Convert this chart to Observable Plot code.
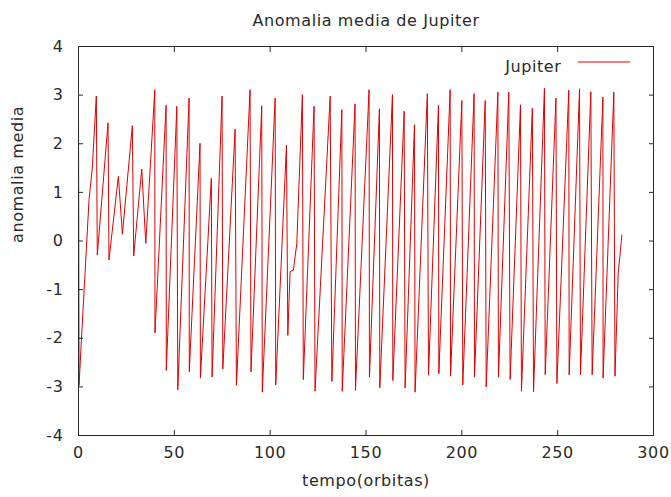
<!DOCTYPE html>
<html>
<head>
<meta charset="utf-8">
<script src="https://cdn.jsdelivr.net/npm/d3@7"></script>
<script src="https://cdn.jsdelivr.net/npm/@observablehq/plot@0.6"></script>
<style>
  html, body { margin: 0; padding: 0; background: #fff; }
</style>
</head>
<body>
<div id="chart"></div>
<script>
const titleText = "Anomalia media de Jupiter";
const xLabel = "tempo(orbitas)";
const yLabel = "anomalia media";
const seriesName = "Jupiter";
const xTicks = [0, 50, 100, 150, 200, 250, 300];
const yTicks = [-4, -3, -2, -1, 0, 1, 2, 3, 4];

const tempo = [
  0, 0.3, 1.5, 5.5, 7.2, 9.3, 9.8, 15.4, 15.9, 20.8, 22.9, 28.1, 28.8, 33.0, 35.1,
  39.8, 39.9, 45.7, 45.8, 51.3, 51.8, 57.7, 57.8, 63.4, 63.6, 69.3, 69.7, 74.9, 75.3,
  81.7, 82.4, 89.5, 90.0, 95.6, 95.9, 102.6, 102.9, 108.5, 109.2, 110.4, 112.1, 113.9,
  116.8, 117.3, 122.9, 123.4, 131.3, 132.2, 137.4, 137.6, 144.3, 144.5, 151.6, 151.8,
  157.0, 157.2, 163.8, 164.0, 169.9, 170.4, 175.3, 175.6, 182.0, 182.6, 187.8, 188.0,
  193.9, 194.1, 200.0, 200.5, 206.4, 206.6, 212.2, 212.7, 218.8, 219.1, 224.5, 225.2,
  230.6, 231.1, 236.8, 237.4, 243.1, 243.5, 249.1, 249.6, 255.8, 256.0, 261.4, 261.9,
  267.3, 268.0, 273.6, 273.7, 279.3, 279.9, 281.6, 283.5
];
const anomalia = [
  2.91, -2.97, -2.04, 0.85, 1.50, 2.98, -0.29, 2.43, -0.39, 1.33, 0.14, 2.37, -0.31, 1.48, -0.05,
  3.11, -1.89, 2.79, -2.66, 2.77, -3.06, 2.94, -2.69, 2.01, -2.82, 1.29, -2.80, 2.98, -2.63,
  2.30, -2.97, 3.11, -2.69, 2.78, -3.11, 2.94, -2.96, 1.97, -1.94, -0.63, -0.60, -0.05,
  3.01, -2.85, 2.77, -3.09, 2.98, -2.89, 2.70, -3.09, 2.82, -3.07, 3.11, -2.80,
  2.72, -3.02, 3.01, -2.87, 2.67, -3.02, 2.39, -3.11, 3.03, -2.76, 2.79, -2.73,
  3.11, -2.78, 2.89, -2.96, 3.03, -2.80, 2.89, -3.00, 3.06, -2.80, 3.06, -2.85,
  2.80, -3.09, 2.73, -3.10, 3.14, -2.75, 2.94, -2.93, 3.10, -2.75, 3.13, -2.75,
  3.07, -2.75, 2.96, -2.82, 3.06, -2.78, -0.66, 0.12
];

const data = tempo.map((t, i) => ({t, a: anomalia[i]}));
const ink = "#2a2a2a";
const lineColor = "#e00000";
const fmt = d => String(d);

const svg = Plot.plot({
  width: 671,
  height: 497,
  marginLeft: 78,
  marginRight: 18,
  marginTop: 46,
  marginBottom: 62,
  style: {fontFamily: "DejaVu Sans", fontSize: "16px", color: ink, background: "#fff"},
  x: {domain: [0, 300]},
  y: {domain: [-4, 4]},
  marks: [
    Plot.line(data, {x: "t", y: "a", stroke: lineColor, strokeWidth: 1}),
    Plot.frame({stroke: ink}),
    // tick labels
    Plot.axisX(xTicks, {anchor: "bottom", tickSize: 0, tickPadding: 11, tickFormat: fmt, label: null, fill: ink, fontSize: 16}),
    Plot.axisY(yTicks, {anchor: "left", tickSize: 0, tickPadding: 15, tickFormat: fmt, label: null, fill: ink, fontSize: 16}),
    // inward ticks on all four sides
    Plot.axisX(xTicks, {anchor: "bottom", tickSize: 5, dy: -5, tickFormat: () => "", label: null, stroke: ink}),
    Plot.axisX(xTicks, {anchor: "top", tickSize: 5, dy: 5, tickFormat: () => "", label: null, stroke: ink}),
    Plot.axisY(yTicks, {anchor: "left", tickSize: 5, dx: 5, tickFormat: () => "", label: null, stroke: ink}),
    Plot.axisY(yTicks, {anchor: "right", tickSize: 5, dx: -5, tickFormat: () => "", label: null, stroke: ink}),
    // titles
    Plot.text([titleText], {frameAnchor: "top", dy: -32, fontSize: 16, fill: ink}),
    Plot.text([xLabel], {frameAnchor: "bottom", dy: 50, fontSize: 16, fill: ink}),
    Plot.text([yLabel], {frameAnchor: "left", dx: -61, dy: 2, rotate: -90, fontSize: 16, fill: ink}),
    Plot.text([seriesName], {frameAnchor: "top-right", dx: -92, dy: 14, textAnchor: "end", fontSize: 16, fill: ink})
  ]
});

d3.select(svg).selectAll("text").style("letter-spacing", "0.6px");

// legend swatch
d3.select(svg).append("line")
  .attr("x1", 578).attr("x2", 630)
  .attr("y1", 62).attr("y2", 62)
  .attr("stroke", lineColor).attr("stroke-width", 1);

document.getElementById("chart").appendChild(svg);
</script>
</body>
</html>
